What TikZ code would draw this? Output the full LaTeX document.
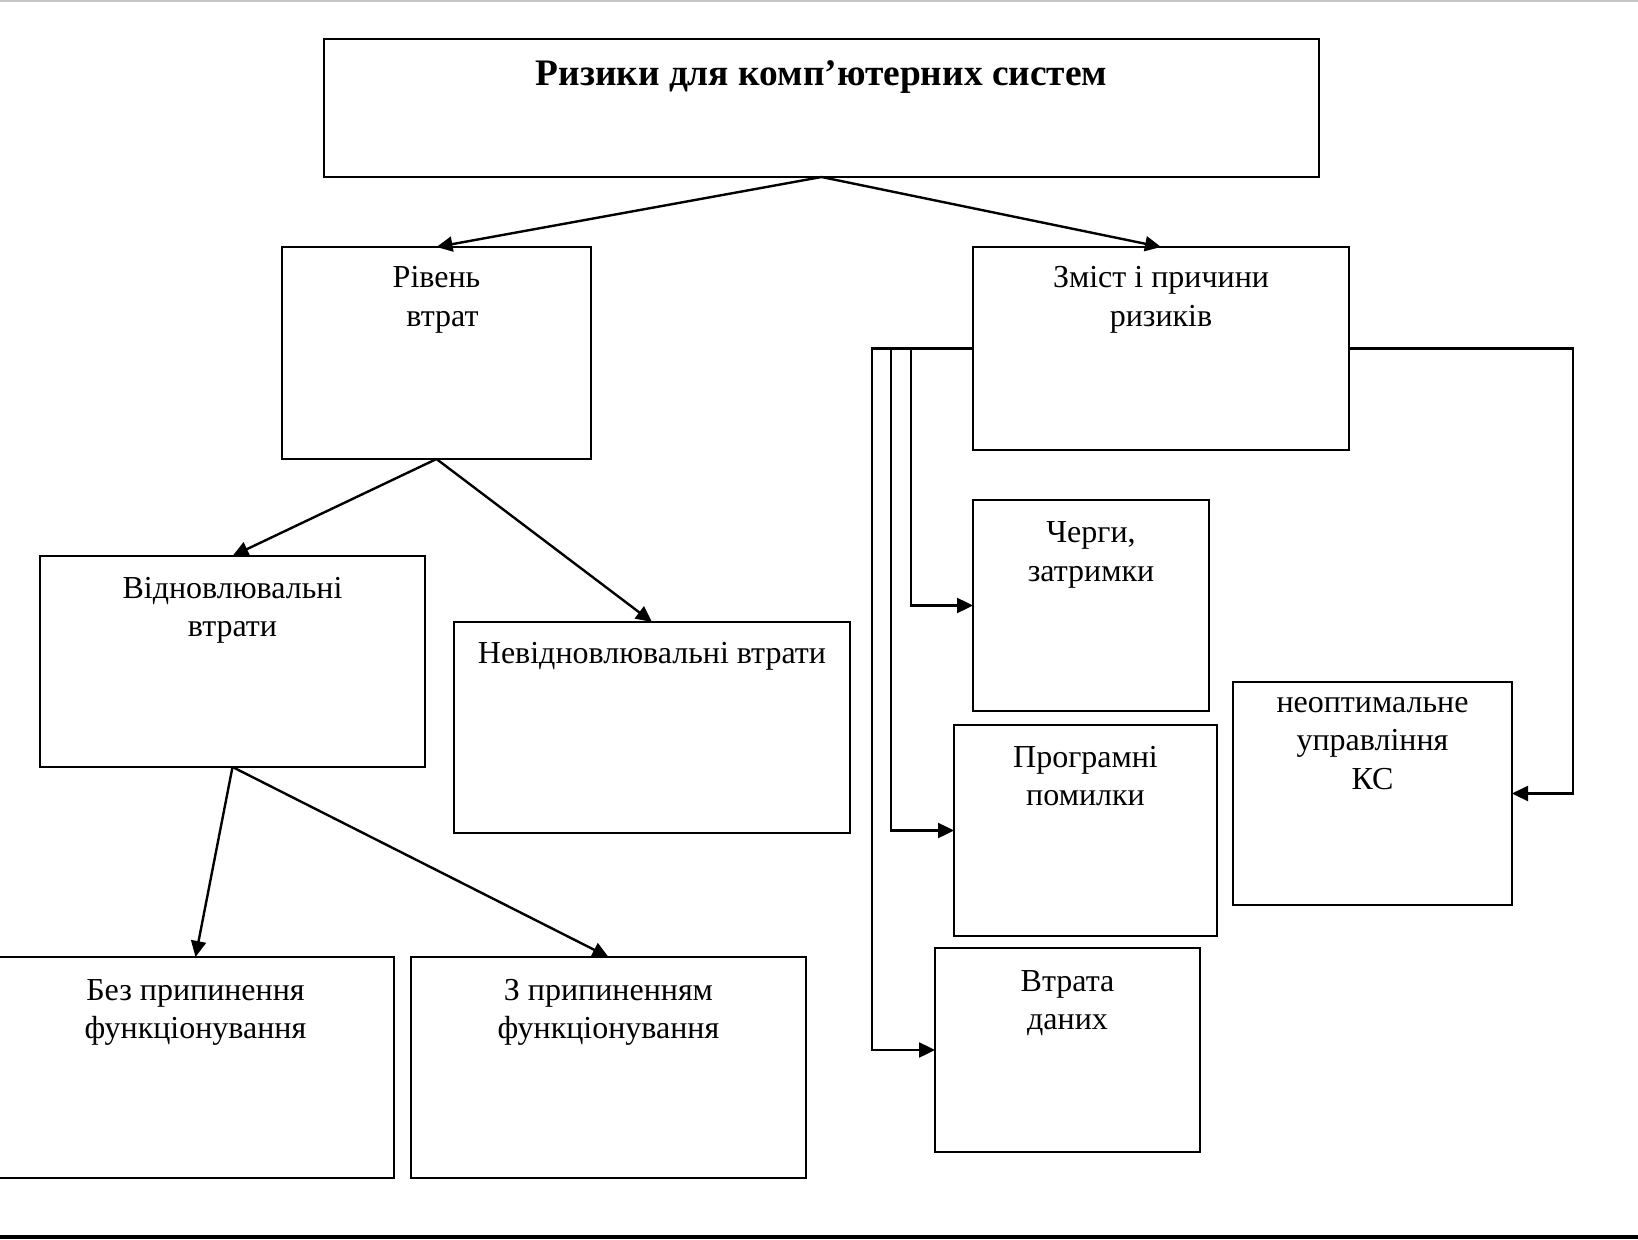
\documentclass[tikz,border=0pt]{standalone}
\usepackage{fontspec}
\setmainfont{Liberation Serif}
\usetikzlibrary{arrows.meta}
\newlength\pxu
\setlength\pxu{0.5pt}
% width, height, first-baseline offset (all in px), text
\newcommand\mybox[4]{\parbox[t][#2\pxu][t]{#1\pxu}{\centering\rule{0pt}{#3\pxu}#4}}
\begin{document}
\begin{tikzpicture}[x=0.5pt,y=-0.5pt,
  bx/.style={draw, line width=0.75pt, inner sep=0pt, outer sep=0pt, anchor=north west,
    font=\fontsize{16}{19.25}\selectfont},
  arr/.style={draw, line width=1.2pt, -{Triangle[length=8pt,width=7.5pt]}}]
\useasboundingbox (0,0) rectangle (1638,1240);
\draw[gray!45, line width=1pt] (0,1) -- (1638,1);
\draw[line width=1.6pt] (0,1237) -- (1638,1237);

\node[bx] (top) at (324,39) {\mybox{995}{138}{47}{\fontsize{18.7}{22}\selectfont\bfseries Ризики для комп’ютерних систем}};
\node[bx] (r) at (282,247) {\mybox{309}{212}{41}{Рівень\\\hspace*{6pt}втрат}};
\node[bx] (z) at (973,247) {\mybox{376}{203}{41}{Зміст і причини\\ризиків}};
\node[bx] (v) at (40,556) {\mybox{385}{211}{42}{Відновлювальні\\втрати}};
\node[bx] (nv) at (454,622) {\mybox{396}{211}{41}{Невідновлювальні втрати}};
\node[bx] (q) at (973,500) {\mybox{236}{211}{43}{Черги,\\затримки}};
\node[bx] (p) at (954,725) {\mybox{263}{211}{42}{Програмні\\помилки}};
\node[bx] (d) at (935,948) {\mybox{265}{204}{43}{Втрата\\даних}};
\node[bx] (n) at (1233,682) {\mybox{279}{223}{30}{неоптимальне\\управління\\КС}};
\node[bx] (b) at (-3,957) {\mybox{397}{221}{43}{Без припинення\\функціонування}};
\node[bx] (zp) at (411,957) {\mybox{395}{221}{43}{З припиненням\\функціонування}};

\coordinate (k1) at (872,600);
\coordinate (k2) at (891,600);
\coordinate (k3) at (911,600);
\coordinate (k4) at (1573,600);

\draw[arr] (top.south) -- (r.north);
\draw[arr] (top.south) -- (z.north);
\draw[arr] (r.south) -- (v.north);
\draw[arr] (r.south) -- (nv.north);
\draw[arr] (v.south) -- (b.north);
\draw[arr] (v.south) -- (zp.north);
\draw[arr] (z.west) -| (k3 |- q.west) -- (q.west);
\draw[arr] (z.west) -| (k2 |- p.west) -- (p.west);
\draw[arr] (z.west) -| (k1 |- d.west) -- (d.west);
\draw[arr] (z.east) -| (k4 |- n.east) -- (n.east);
\end{tikzpicture}
\end{document}
